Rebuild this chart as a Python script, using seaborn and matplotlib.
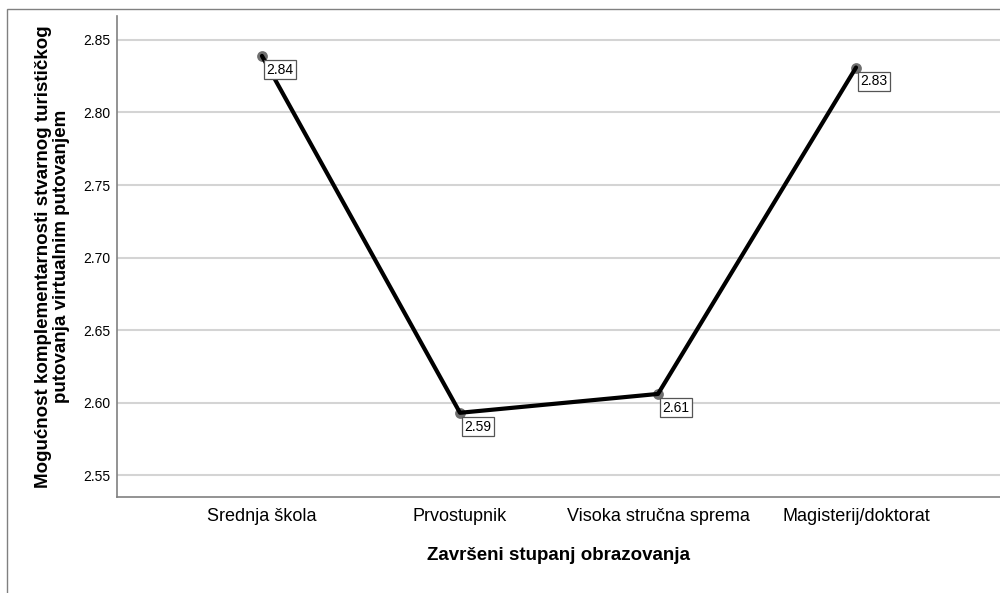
import pandas as pd
import matplotlib.pyplot as plt
import matplotlib.patches as mpatches
import seaborn as sns

# data
categories = ["Srednja škola", "Prvostupnik", "Visoka stručna sprema", "Magisterij/doktorat"]
means = [2.839, 2.593, 2.606, 2.831]
labels = ["2.84", "2.59", "2.61", "2.83"]
yticks = [2.55, 2.60, 2.65, 2.70, 2.75, 2.80, 2.85]

df = pd.DataFrame({"cat": categories, "mean": means, "pos": range(len(categories))})

sns.set_style("white")
plt.rcParams["font.family"] = ["Liberation Sans", "DejaVu Sans"]
plt.rcParams["text.color"] = "black"
plt.rcParams["axes.labelcolor"] = "black"
plt.rcParams["xtick.color"] = "black"
plt.rcParams["ytick.color"] = "black"

fig = plt.figure(figsize=(10, 5.93), dpi=100)
ax = fig.add_axes([0.117, 0.162, 0.883, 0.811])

# outer frame (partially off-canvas)
frame = mpatches.Rectangle((0.007, -0.1), 1.2, 1.1 - 9 / 593, transform=fig.transFigure,
                           fill=False, edgecolor="#808080", lw=1, clip_on=False)
fig.patches.append(frame)

# grid
for t in yticks:
    ax.axhline(t, color="#d4d4d4", lw=1.5, zorder=0)

sns.scatterplot(data=df, x="pos", y="mean", ax=ax, color="#6f6f6f", s=60,
                edgecolor="#6f6f6f", linewidth=0, zorder=2)
sns.lineplot(data=df, x="pos", y="mean", ax=ax, color="black", lw=3, zorder=3, sort=False)

for i, (v, lab) in enumerate(zip(means, labels)):
    ax.annotate(lab, (i, v), xytext=(3, -5), textcoords="offset points",
                ha="left", va="top", fontsize=10, zorder=4,
                bbox=dict(boxstyle="square,pad=0.18", fc="white", ec="#555555", lw=0.9))

ax.set_xlim(-0.732, 3.727)
ax.set_ylim(2.535, 2.8665)
ax.set_xticks(range(len(categories)))
ax.set_xticklabels(categories, fontsize=13)
ax.set_yticks(yticks)
ax.set_yticklabels([f"{t:.2f}" for t in yticks], fontsize=10)
ax.tick_params(axis="x", length=0, pad=8)
ax.tick_params(axis="y", length=0, pad=5)

ax.set_xlabel("Završeni stupanj obrazovanja", fontsize=13.5, fontweight="bold")
ax.xaxis.set_label_coords(0.5, -0.104)
ax.set_ylabel("Mogućnost komplementarnosti stvarnog turističkog\nputovanja virtualnim putovanjem",
              fontsize=13.5, fontweight="bold", linespacing=1.1)
ax.yaxis.set_label_coords(-0.053, 0.5)

for s in ["top", "right"]:
    ax.spines[s].set_visible(False)
for s in ["left", "bottom"]:
    ax.spines[s].set_color("#808080")
    ax.spines[s].set_linewidth(1.2)

fig.savefig("out.png", dpi=100)
